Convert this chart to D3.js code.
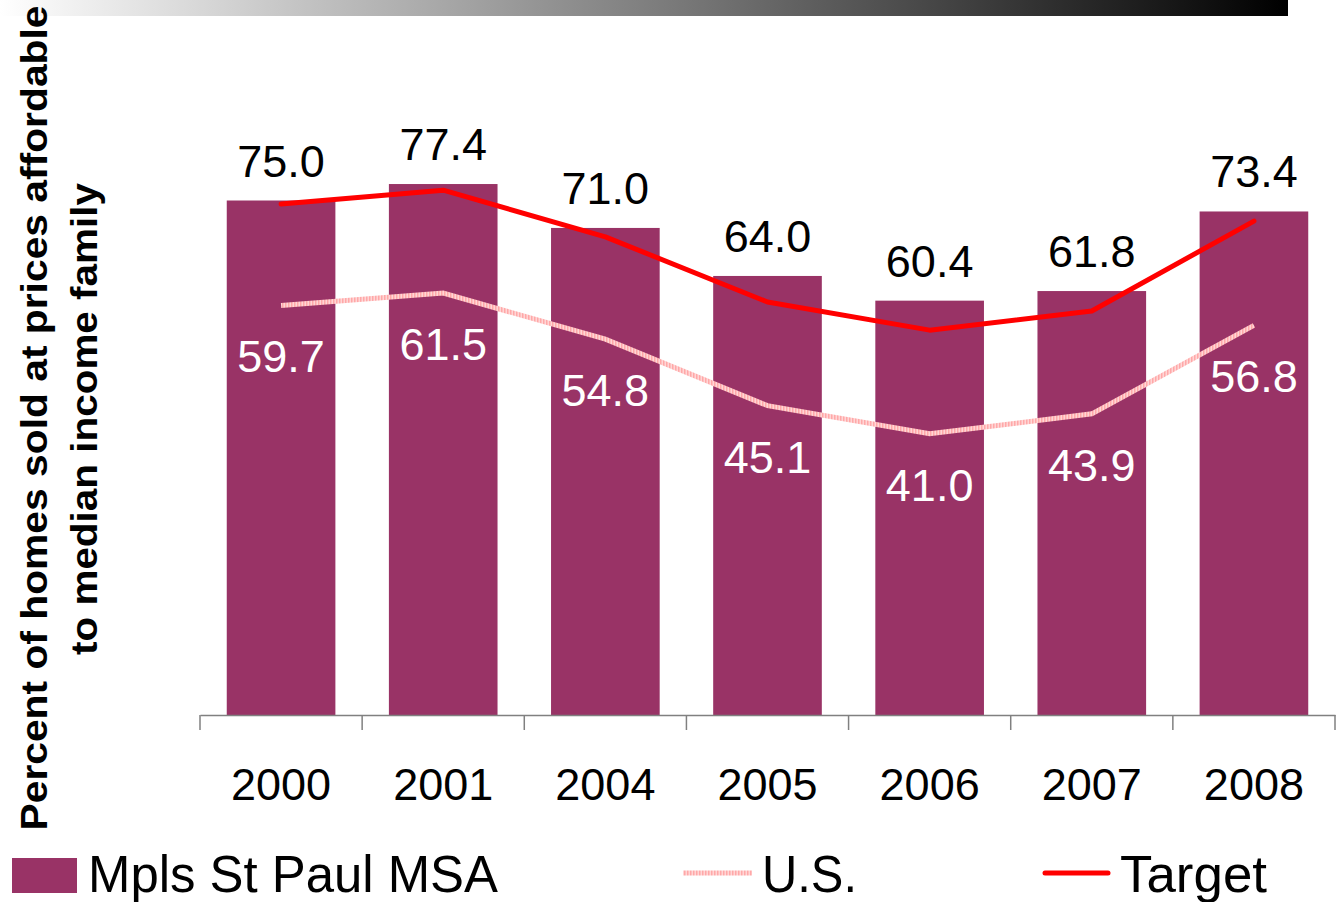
<!DOCTYPE html>
<html><head><meta charset="utf-8">
<script src="https://cdn.jsdelivr.net/npm/d3@7"></script>
<style>html,body{margin:0;padding:0;background:#fff;}svg{display:block;font-family:"Liberation Sans",Arial,sans-serif;}</style>
</head><body>
<svg id="chart" width="1340" height="902"></svg>
<script>
const categories = ["2000","2001","2004","2005","2006","2007","2008"];
const mspValues = [75.0, 77.4, 71.0, 64.0, 60.4, 61.8, 73.4];
const usValues = [59.7, 61.5, 54.8, 45.1, 41.0, 43.9, 56.8];
const targetValues = [74.5, 76.5, 69.7, 60.2, 56.1, 58.9, 72.0];
const seriesNames = ["Mpls St Paul MSA", "U.S.", "Target"];
const yTitle = ["Percent of homes sold at prices affordable", "to median income family"];

const svg = d3.select("#chart");
const defs = svg.append("defs");
const grad = defs.append("linearGradient").attr("id","topgrad").attr("x1","0").attr("x2","1").attr("y1","0").attr("y2","0");
grad.append("stop").attr("offset","0").attr("stop-color","#ffffff");
grad.append("stop").attr("offset","1").attr("stop-color","#000000");
const pat = defs.append("pattern").attr("id","usstripe").attr("patternUnits","userSpaceOnUse").attr("width",3).attr("height",3);
pat.append("rect").attr("width",3).attr("height",3).attr("fill","#ffd6d6");
pat.append("rect").attr("width",1.5).attr("height",3).attr("fill","#ffa8a8");

svg.append("rect").attr("x",0).attr("y",0).attr("width",1288).attr("height",16).attr("fill","url(#topgrad)");

const x = d3.scaleBand().domain(categories).range([200,1335]).padding(0);
const y = d3.scaleLinear().domain([0,100]).range([715,29]);
const barW = x.bandwidth()*0.67;
const cx = d => x(d) + x.bandwidth()/2;
const barColor = "#993366";

svg.append("g").selectAll("rect").data(categories).join("rect")
  .attr("x", d => cx(d) - barW/2).attr("width", barW)
  .attr("y", (d,i) => y(mspValues[i])).attr("height", (d,i) => y(0) - y(mspValues[i]))
  .attr("fill", barColor);

// axis
const ax = svg.append("g").attr("transform","translate(0,715)")
  .call(d3.axisBottom(x).tickSize(0).tickFormat(""));
ax.select(".domain").attr("stroke","#808080").attr("stroke-width",1.5);
const tickXs = categories.map(c => x(c)).concat([x(categories[categories.length-1]) + x.bandwidth()]);
svg.append("g").selectAll("line").data(tickXs).join("line")
  .attr("x1", d => d).attr("x2", d => d).attr("y1", 715).attr("y2", 730)
  .attr("stroke","#808080").attr("stroke-width",1.5);
svg.append("g").selectAll("text").data(categories).join("text")
  .attr("x", d => cx(d)).attr("y", 800).attr("text-anchor","middle")
  .attr("font-size",45).attr("fill","#000").text(d => d);

// lines
const line = vals => d3.line().x((d,i) => cx(categories[i])).y(d => y(d))(vals);
svg.append("path").attr("d", line(usValues)).attr("fill","none")
  .attr("stroke","url(#usstripe)").attr("stroke-width",5);
svg.append("path").attr("d", line(targetValues)).attr("fill","none")
  .attr("stroke","#ff0000").attr("stroke-width",5).attr("stroke-linecap","round").attr("stroke-linejoin","round");

// labels
svg.append("g").selectAll("text").data(categories).join("text")
  .attr("x", d => cx(d)).attr("y", (d,i) => y(mspValues[i]) - 24).attr("text-anchor","middle")
  .attr("font-size",45).attr("fill","#000").text((d,i) => mspValues[i].toFixed(1));
svg.append("g").selectAll("text").data(categories).join("text")
  .attr("x", d => cx(d)).attr("y", (d,i) => y(usValues[i]) + 67).attr("text-anchor","middle")
  .attr("font-size",45).attr("fill","#fff").text((d,i) => usValues[i].toFixed(1));

// y title
const yt = svg.append("g").attr("font-weight","bold").attr("font-size",36).attr("fill","#000");
yt.append("text").attr("transform","translate(47,418) rotate(-90)").attr("text-anchor","middle")
  .attr("textLength",825).attr("lengthAdjust","spacingAndGlyphs").text(yTitle[0]);
yt.append("text").attr("transform","translate(97,419) rotate(-90)").attr("text-anchor","middle")
  .attr("textLength",472).attr("lengthAdjust","spacingAndGlyphs").text(yTitle[1]);

// legend
const lg = svg.append("g").attr("font-size",52).attr("fill","#000");
lg.append("rect").attr("x",12).attr("y",858).attr("width",65).attr("height",35).attr("fill",barColor);
lg.append("text").attr("x",88).attr("y",892).attr("textLength",410).attr("lengthAdjust","spacingAndGlyphs").text(seriesNames[0]);
lg.append("line").attr("x1",683).attr("x2",752).attr("y1",873).attr("y2",873).attr("stroke","url(#usstripe)").attr("stroke-width",5);
lg.append("text").attr("x",762).attr("y",892).attr("textLength",95).attr("lengthAdjust","spacingAndGlyphs").text(seriesNames[1]);
lg.append("line").attr("x1",1045).attr("x2",1108).attr("y1",873).attr("y2",873).attr("stroke","#ff0000").attr("stroke-width",5).attr("stroke-linecap","round");
lg.append("text").attr("x",1120).attr("y",892).attr("textLength",147).attr("lengthAdjust","spacingAndGlyphs").text(seriesNames[2]);
</script>
</body></html>
